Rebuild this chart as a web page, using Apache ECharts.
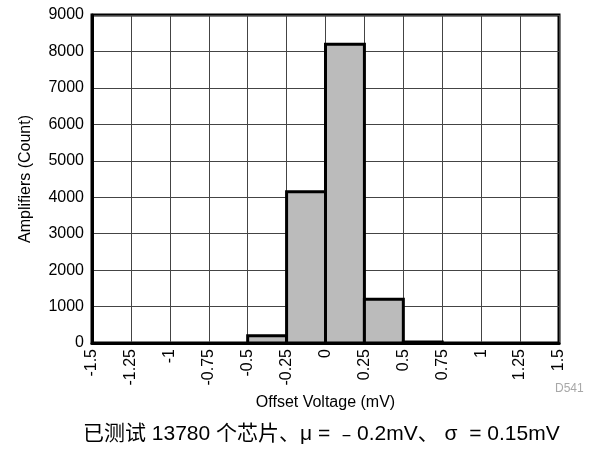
<!DOCTYPE html>
<html>
<head>
<meta charset="utf-8">
<script src="https://cdn.jsdelivr.net/npm/echarts@6/dist/echarts.min.js"></script>
<style>html,body{margin:0;padding:0;background:#fff}#c{width:593px;height:451px}</style>
</head>
<body>
<div id="c"></div>
<script>
// Histogram data: bin start (mV), bin width 0.25 mV, counts
var binStarts = [-0.5, -0.25, 0, 0.25, 0.5];
var binWidth = 0.25;
var counts = [200, 4150, 8200, 1200, 30];
var xTickValues = [-1.5, -1.25, -1, -0.75, -0.5, -0.25, 0, 0.25, 0.5, 0.75, 1, 1.25, 1.5];
var xTickLabels = ['-1.5', '-1.25', '-1', '-0.75', '-0.5', '-0.25', '0', '0.25', '0.5', '0.75', '1', '1.25', '1.5'];
var yTickLabels = ['0', '1000', '2000', '3000', '4000', '5000', '6000', '7000', '8000', '9000'];
var xTitle = 'Offset Voltage (mV)';
var yTitle = 'Amplifiers (Count)';
var caption = '已测试 13780 个芯片、μ = ﹣0.2mV、 σ  = 0.15mV';
var codeLabel = 'D541';

var FONT = '"Liberation Sans", Arial, Helvetica, sans-serif';
var chart = echarts.init(document.getElementById('c'), null, {renderer: 'canvas'});
var data = binStarts.map(function (s, i) { return [s, s + binWidth, counts[i]]; });

chart.setOption({
  animation: false,
  backgroundColor: '#fff',
  grid: {left: 92, right: 34, top: 15, bottom: 108, show: true, borderColor: '#000', borderWidth: 3, backgroundColor: 'transparent'},
  xAxis: {
    type: 'value', min: -1.5, max: 1.5, interval: 0.25,
    name: xTitle, nameLocation: 'middle', nameGap: 52,
    nameTextStyle: {fontFamily: FONT, fontSize: 16, color: '#000'},
    axisLine: {show: true, onZero: false, lineStyle: {color: '#000', width: 3}},
    axisTick: {show: false},
    axisLabel: {
      rotate: 90, margin: 6, fontFamily: FONT, fontSize: 16, color: '#000',
      formatter: function (v) {
        for (var i = 0; i < xTickValues.length; i++) if (Math.abs(xTickValues[i] - v) < 1e-9) return xTickLabels[i];
        return '';
      }
    },
    splitLine: {show: true, lineStyle: {color: '#444', width: 1}}
  },
  yAxis: {
    type: 'value', min: 0, max: 9000, interval: 1000,
    name: yTitle, nameLocation: 'middle', nameGap: 58,
    nameTextStyle: {fontFamily: FONT, fontSize: 16, color: '#000'},
    axisLine: {show: true, onZero: false, lineStyle: {color: '#000', width: 3}},
    axisTick: {show: false},
    axisLabel: {margin: 8, fontFamily: FONT, fontSize: 16, color: '#000',
      formatter: function (v) { return yTickLabels[Math.round(v / 1000)]; }},
    splitLine: {show: true, lineStyle: {color: '#444', width: 1}}
  },
  series: [{
    type: 'custom',
    data: data,
    encode: {x: [0, 1], y: 2},
    renderItem: function (params, api) {
      var p0 = api.coord([api.value(0), 0]);
      var p1 = api.coord([api.value(1), api.value(2)]);
      return {
        type: 'rect',
        shape: {x: p0[0], y: p1[1], width: p1[0] - p0[0], height: p0[1] - p1[1]},
        style: {fill: '#bbbbbb', stroke: '#000', lineWidth: 3}
      };
    },
    z: 3
  }],
  graphic: [
    {type: 'text', left: 555, top: 383, style: {text: codeLabel, fontFamily: FONT, fontSize: 12, fill: '#a8a8a8'}},
    {type: 'text', left: 83, top: 424, style: {text: caption, fontFamily: '"Liberation Sans", "Noto Sans CJK SC", sans-serif', fontSize: 21, fill: '#000'}}
  ]
});
</script>
</body>
</html>
